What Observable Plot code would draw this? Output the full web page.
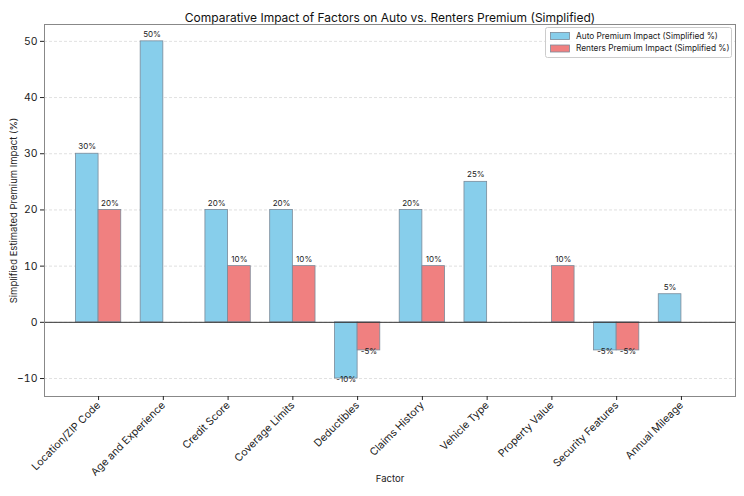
<!DOCTYPE html>
<html>
<head>
<meta charset="utf-8">
<script src="https://cdn.jsdelivr.net/npm/d3@7"></script>
<script src="https://cdn.jsdelivr.net/npm/@observablehq/plot@0.6"></script>
<style>
  body { margin: 0; background: #fff; }
  #chart svg { font-family: Inter, "Open Sans", sans-serif; }
</style>
</head>
<body>
<div id="chart"></div>
<script>
const factors = ["Location/ZIP Code", "Age and Experience", "Credit Score", "Coverage Limits", "Deductibles", "Claims History", "Vehicle Type", "Property Value", "Security Features", "Annual Mileage"];
const autoImpact = [30, 50, 20, 20, -10, 20, 25, 0, -5, 5];
const rentersImpact = [20, 0, 10, 10, -5, 10, 0, 10, -5, 0];
const yTicks = [-10, 0, 10, 20, 30, 40, 50];
const seriesNames = ["Auto Premium Impact (Simplified %)", "Renters Premium Impact (Simplified %)"];
const colors = ["#87CEEB", "#F08080"];

const barW = 0.35;
const rows = [];
factors.forEach((f, i) => {
  rows.push({i, f, v: autoImpact[i], s: 0, x1: i - barW, x2: i});
  rows.push({i, f, v: rentersImpact[i], s: 1, x1: i, x2: i + barW});
});
const bars = rows.filter(d => d.v !== 0);
const labelOpts = {x: d => (d.x1 + d.x2) / 2, y: "v", text: d => d.v + "%", fontSize: 8, fill: "#222"};

const chart = Plot.plot({
  width: 744,
  height: 496,
  marginLeft: 44,
  marginRight: 9,
  marginTop: 24,
  marginBottom: 100,
  style: {fontSize: "10.5px", fontFamily: "Inter, 'Open Sans', sans-serif", color: "#222"},
  x: {type: "linear", domain: [-0.835, 9.835]},
  y: {domain: [-13.2, 53]},
  marks: [
    Plot.gridY(yTicks, {stroke: "#ccc", strokeOpacity: 0.6, strokeDasharray: "3,2"}),
    Plot.rectY(bars, {
      x1: "x1", x2: "x2", y1: 0, y2: "v",
      fill: d => colors[d.s], stroke: "#7a8a99", strokeWidth: 0.8, inset: 0
    }),
    Plot.ruleY([0], {stroke: "#333", strokeWidth: 1}),
    Plot.text(bars.filter(d => d.v > 0), {...labelOpts, dy: -7}),
    Plot.text(bars.filter(d => d.v < 0), {...labelOpts, dy: 1}),
    Plot.frame({stroke: "#888"}),
    Plot.axisY(yTicks, {tickSize: 4, tickPadding: 3, label: null, fontSize: 10.5}),
    Plot.axisX(d3.range(factors.length), {
      tickSize: 4, tickFormat: i => factors[i], tickRotate: -45, label: null, fontSize: 10.5, tickPadding: 3
    }),
    Plot.text(["Comparative Impact of Factors on Auto vs. Renters Premium (Simplified)"], {
      frameAnchor: "top", dy: -11, fontSize: 12, fill: "#111"
    }),
    Plot.text(["Factor"], {frameAnchor: "bottom", dy: 85, fontSize: 9.5, fill: "#222"}),
    Plot.text(["Simplified Estimated Premium Impact (%)"], {
      frameAnchor: "left", dx: -31, rotate: -90, textAnchor: "middle", fontSize: 9.5, fill: "#222"
    })
  ]
});

document.getElementById("chart").appendChild(chart);

// legend (matplotlib-style, upper right inside axes)
const svg = d3.select(chart);
const lg = svg.append("g").attr("font-family", "Inter, 'Open Sans', sans-serif").attr("text-anchor", "start");
lg.append("rect").attr("x", 545.5).attr("y", 27.5).attr("width", 186).attr("height", 30)
  .attr("fill", "#fff").attr("fill-opacity", 0.85).attr("stroke", "#ccc").attr("rx", 2);
seriesNames.forEach((name, k) => {
  const cy = 36 + k * 12.5;
  lg.append("rect").attr("x", 550.5).attr("y", cy - 3.5).attr("width", 19).attr("height", 7)
    .attr("fill", colors[k]).attr("stroke", "#7a8a99").attr("stroke-width", 0.8);
  lg.append("text").attr("x", 576).attr("y", cy).attr("dy", "0.35em")
    .attr("font-size", 8.3).attr("fill", "#222").attr("text-anchor", "start").text(name);
});
</script>
</body>
</html>
